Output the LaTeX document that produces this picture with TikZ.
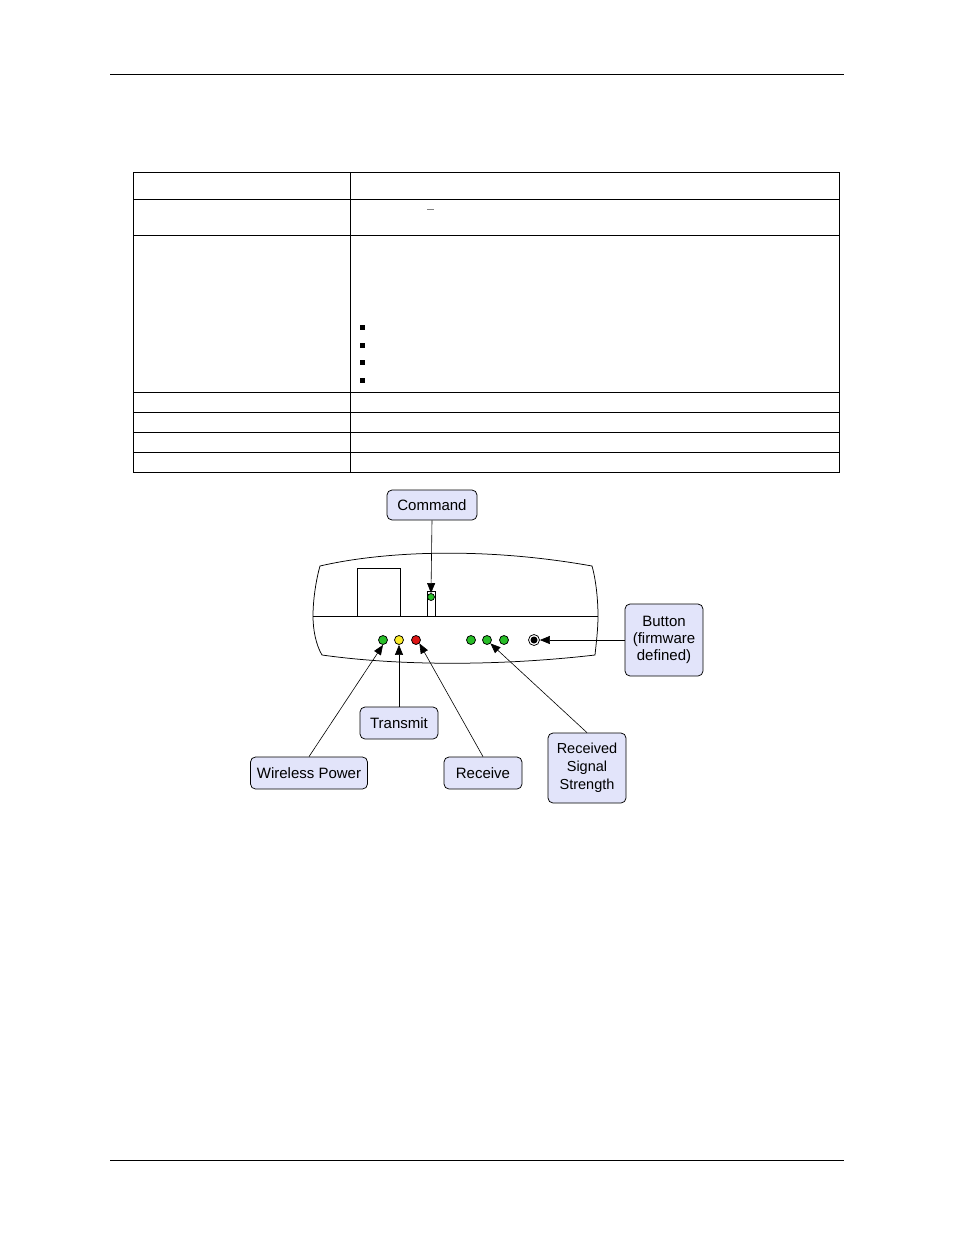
\documentclass[tikz,border=0pt]{standalone}
\usepackage{fontspec}
\setmainfont{Liberation Sans}
\usetikzlibrary{arrows.meta}
\definecolor{callout}{RGB}{226,228,250}
\definecolor{ledgreen}{RGB}{40,190,40}
\definecolor{ledyellow}{RGB}{250,235,40}
\definecolor{ledred}{RGB}{220,20,20}
\tikzset{every picture/.style={line width=0.75pt}}
\tikzset{
  label box/.style={draw, fill=callout, rounded corners=5pt, align=center, font=\fontsize{15}{17}\selectfont, inner sep=2pt},
  led/.style={circle, draw, minimum size=9pt, inner sep=0pt},
  pointer/.style={-{Triangle[length=10pt,width=8pt]}, line width=0.6pt}
}
\begin{document}
\begin{tikzpicture}[x=1pt,y=1pt,yscale=-1]
	\useasboundingbox (0,0) rectangle (954,1235);
	% page rules
	\draw [line width=0.6pt] (110,74) -- (844,74);
	\draw [line width=0.6pt] (110,1160) -- (844,1160);
	
	% table
	\draw [line width=1pt] (133,172) rectangle (839,472);
	\draw [line width=1pt] (350,172) -- (350,472);
	\foreach \yy in {199,235,392,412,432,452}
		\draw [line width=1pt] (133,\yy) -- (839,\yy);
	\foreach \yy in {327,345,362,380}
		\fill (360,\yy-2.5) rectangle (365,\yy+2.5);
	\draw [gray, line width=0.6pt] (427,209) -- (434,209);
	
	% device body
	\draw (320,566) .. controls (380,552) and (480,546) .. (592,566)
		.. controls (596,580) and (598,600) .. (598,616)
		.. controls (598,630) and (596,645) .. (595,655)
		.. controls (500,666) and (400,666) .. (322,655)
		.. controls (316,645) and (313,630) .. (313,616)
		.. controls (313,600) and (316,580) .. (320,566) -- cycle;
	\draw (313,616) -- (598,616);
	\draw (357,616) -- (357,568) -- (400,568) -- (400,616);
	\draw (427,616) -- (427,591) -- (435,591) -- (435,616);
	
	% LEDs
	\node [led, fill=ledgreen, minimum size=7pt] (cmdled) at (431,597) {};
	\node [led, fill=ledgreen] (pwrled) at (383,640) {};
	\node [led, fill=ledyellow] (txled) at (399,640) {};
	\node [led, fill=ledred] (rxled) at (416,640) {};
	\node [led, fill=ledgreen] (rssa) at (471,640) {};
	\node [led, fill=ledgreen] (rssb) at (487,640) {};
	\node [led, fill=ledgreen] (rssc) at (504,640) {};
	\node [circle, draw, minimum size=11pt, inner sep=0pt] (btn) at (534,640) {};
	\fill (btn) circle (3.5pt);
	
	% callouts
	\node [label box, minimum width=90pt, minimum height=30pt] (command) at (432,505) {Command};
	\node [label box, minimum width=78pt, minimum height=72pt] (button) at (664,640) {Button\\(firmware\\defined)};
	\node [label box, minimum width=78pt, minimum height=32pt] (transmit) at (399,723) {Transmit};
	\node [label box, minimum width=117pt, minimum height=32pt] (power) at (309,773) {Wireless Power};
	\node [label box, minimum width=78pt, minimum height=32pt] (receive) at (483,773) {Receive};
	\node [label box, minimum width=78pt, minimum height=70pt, font=\fontsize{14.5}{18}\selectfont] (rss) at (587,768) {Received\\Signal\\Strength};
	
	% pointers
	\draw [pointer] (command.south) -- (cmdled.north);
	\draw [pointer] (button.west) -- (btn.east);
	\draw [pointer] (transmit.north) -- (txled.south);
	\draw [pointer] (power.north) -- (pwrled.south);
	\draw [pointer] (receive.north) -- (rxled.south east);
	\draw [pointer] (rss.north) -- (rssb.south east);
\end{tikzpicture}
\end{document}
